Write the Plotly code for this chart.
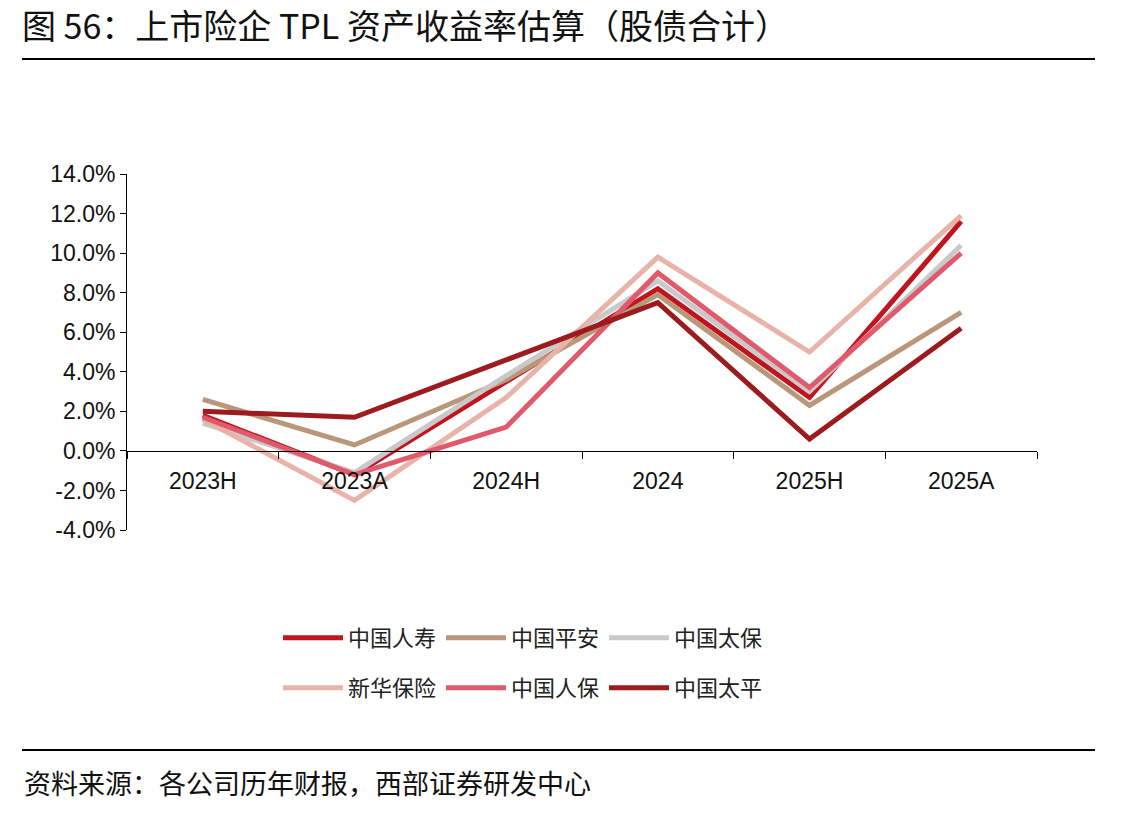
import plotly.graph_objects as go

W, H = 1144, 816
# plot area in pixels
L, R, T, B = 127, 1037, 174, 530

categories = ["2023H", "2023A", "2024H", "2024", "2025H", "2025A"]
names = ["中国人寿", "中国平安", "中国太保", "新华保险", "中国人保", "中国太平"]
renshou = [1.8, -1.2, 3.5, 8.2, 2.7, 11.6]
pingan = [2.6, 0.3, 3.6, 7.9, 2.3, 7.0]
taibao = [1.4, -1.1, 3.8, 8.6, 3.0, 10.4]
xinhua = [1.6, -2.5, 2.7, 9.8, 5.0, 11.9]
renbao = [1.7, -1.2, 1.2, 9.0, 3.2, 10.0]
taiping = [2.0, 1.7, 4.6, 7.5, 0.6, 6.2]
series = [renshou, pingan, taibao, xinhua, renbao, taiping]
colors = ["#C0141F", "#B8977A", "#C9C9C9", "#E8B3A8", "#E05A6C", "#9B1B1E"]

y_min, y_max = -4, 14
y_tickvals = [-4, -2, 0, 2, 4, 6, 8, 10, 12, 14]
y_ticktext = ["-4.0%", "-2.0%", "0.0%", "2.0%", "4.0%", "6.0%", "8.0%", "10.0%", "12.0%", "14.0%"]

title = "图 56：上市险企 TPL 资产收益率估算（股债合计）"
source = "资料来源：各公司历年财报，西部证券研发中心"


def px(x):
    return (x - L) / (R - L)


def py(y):
    return (B - y) / (B - T)


CJK = "Noto Sans CJK SC"
NUM = "Liberation Sans, Arial, sans-serif"

fig = go.Figure()
for i, (n, s, c) in enumerate(zip(names, series, colors)):
    fig.add_trace(go.Scatter(
        x=categories, y=s, name=n, mode="lines",
        line=dict(color=c, width=5),
        legend="legend" if i < 3 else "legend2",
    ))

zero_pos = (0 - y_min) / (y_max - y_min)

legend_common = dict(
    orientation="h", xref="container", yref="container",
    xanchor="left", yanchor="middle",
    font=dict(family=CJK, size=22, color="#222222"),
    itemwidth=60, entrywidth=88, entrywidthmode="pixels",
    bgcolor="rgba(0,0,0,0)", tracegroupgap=0,
)

fig.update_layout(
    width=W, height=H,
    margin=dict(l=L, r=W - R, t=T, b=H - B),
    paper_bgcolor="white", plot_bgcolor="white",
    showlegend=True,
    title=dict(text=title, xref="container", yref="container",
               x=22 / W, y=1 - 27 / H, xanchor="left", yanchor="middle",
               font=dict(family=CJK, size=34, color="#111111")),
    xaxis=dict(
        type="category", anchor="free", position=zero_pos,
        showline=True, linecolor="#000000", linewidth=1,
        ticks="outside", ticklen=7, tickcolor="#000000", tickson="boundaries",
        ticklabelstandoff=10,
        showgrid=False, zeroline=False,
        tickfont=dict(family=NUM, size=23, color="#111111"),
        range=[-0.5, 5.5],
    ),
    yaxis=dict(
        range=[y_min, y_max], tickvals=y_tickvals, ticktext=y_ticktext,
        showline=True, linecolor="#000000", linewidth=1,
        ticks="outside", ticklen=6, tickcolor="#000000",
        showgrid=False, zeroline=False,
        tickfont=dict(family=NUM, size=23, color="#111111"),
    ),
    legend=dict(x=278 / W, y=1 - 638 / H, **legend_common),
    legend2=dict(x=278 / W, y=1 - 688 / H, **legend_common),
    shapes=[
        dict(type="line", xref="paper", yref="paper", x0=px(22), x1=px(1095),
             y0=py(59), y1=py(59), line=dict(color="#000000", width=2)),
        dict(type="line", xref="paper", yref="paper", x0=px(22), x1=px(1095),
             y0=py(750), y1=py(750), line=dict(color="#000000", width=2)),
    ],
    annotations=[
        dict(text=source, xref="paper", yref="paper", x=px(22), y=py(782),
             xanchor="left", yanchor="middle", showarrow=False,
             font=dict(family=CJK, size=27, color="#111111")),
    ],
)

fig.write_html("out.html")
